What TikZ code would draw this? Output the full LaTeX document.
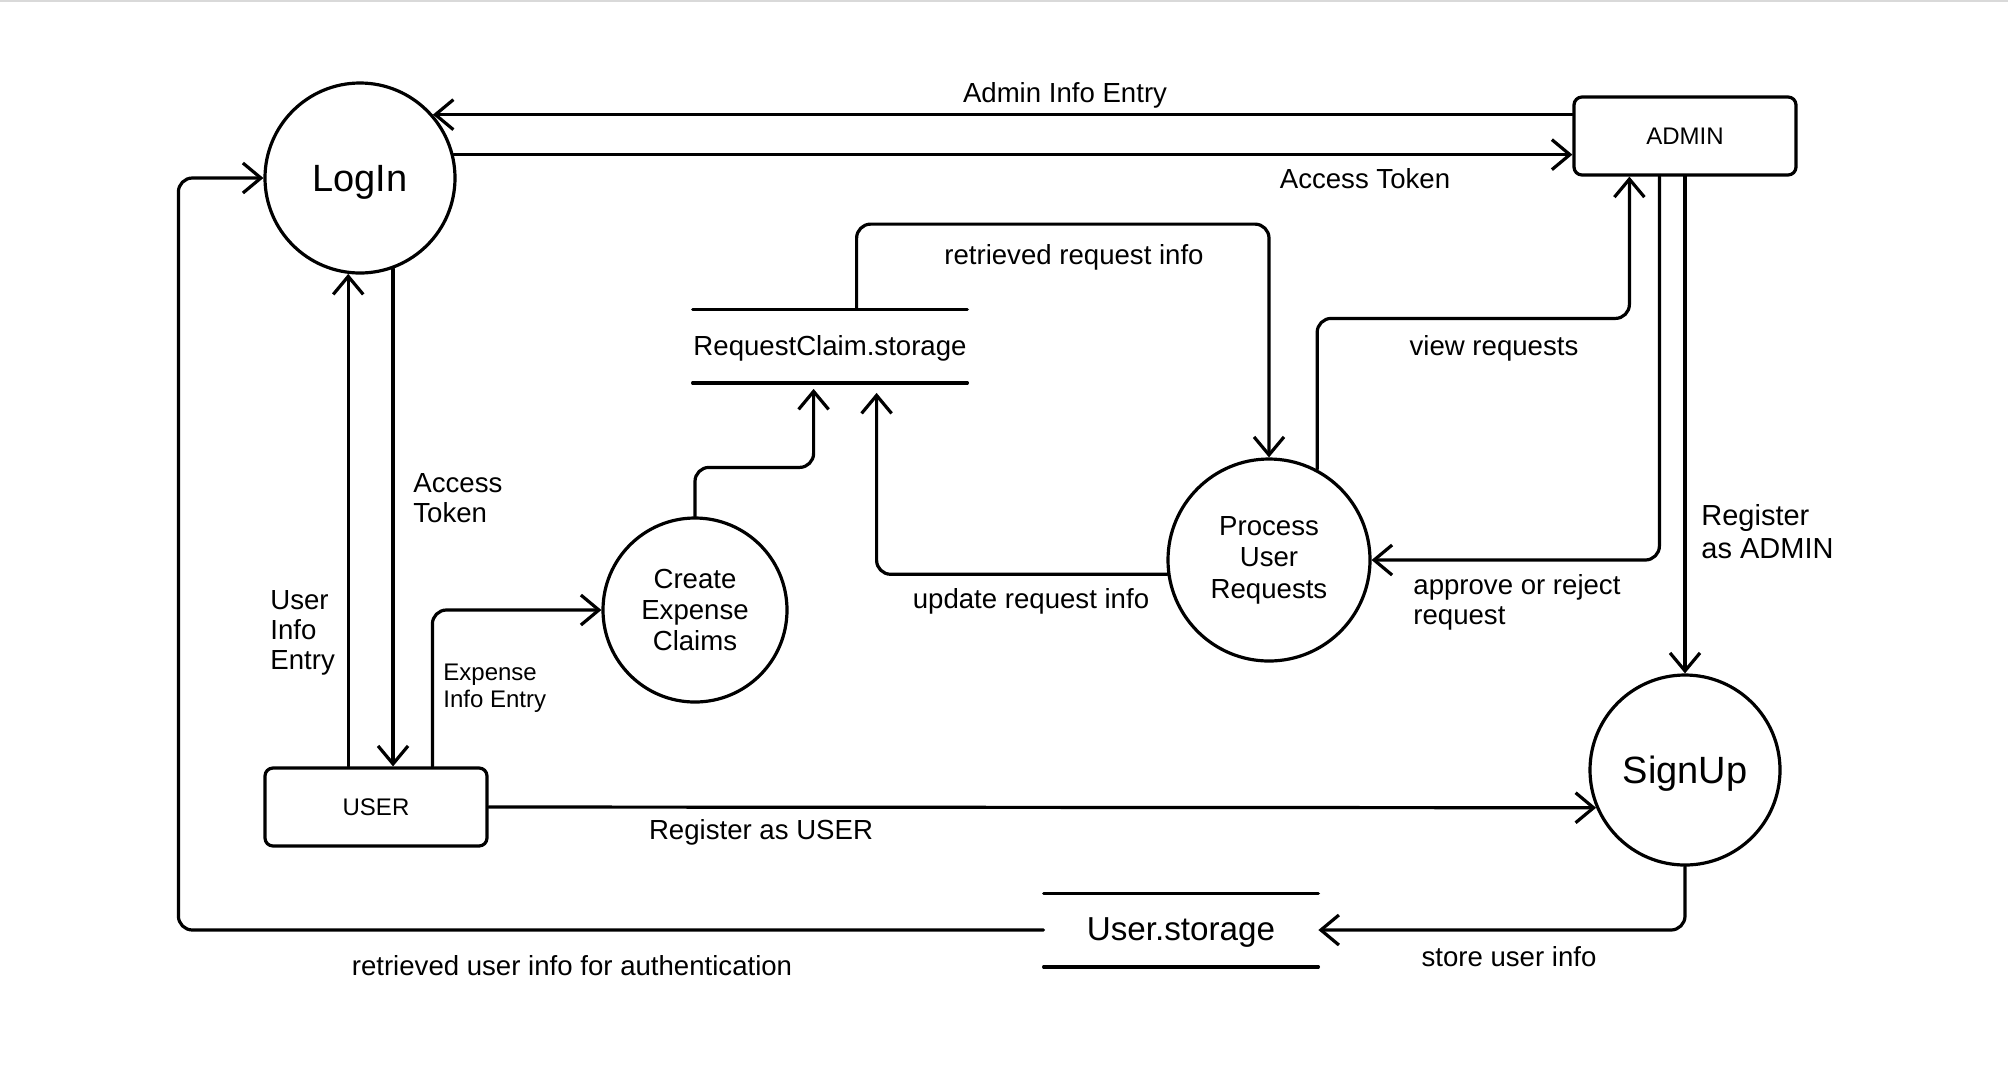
\documentclass[tikz,border=0pt]{standalone}
\usepackage{fontspec}
\setmainfont{Liberation Sans}
\usetikzlibrary{arrows.meta,calc}
\tikzset{
  flow/.style={line width=1.6pt, line cap=round, line join=round, rounded corners=7pt,
    -{Straight Barb[length=9pt,width=15pt,line width=1.6pt]}},
  plainline/.style={line width=1.6pt, line cap=round, rounded corners=7pt},
  proc/.style={circle, draw, line width=1.6pt, align=center, inner sep=0pt,
    font=\fontsize{13.8}{15.7}\selectfont},
  ent/.style={rectangle, rounded corners=4pt, draw, line width=1.6pt,
    minimum width=111pt, minimum height=39pt, font=\fontsize{12}{14}\selectfont},
  store/.style={minimum width=137pt, minimum height=36.5pt, inner sep=0pt},
  lbl/.style={font=\fontsize{13.8}{15}\selectfont, align=left, inner sep=0pt, yshift=-1pt},
  slbl/.style={font=\fontsize{12}{13.5}\selectfont, align=left, inner sep=0pt, yshift=-1pt}
}
\newcommand{\lowr}[2]{\raisebox{-#1}[\height][\depth]{#2}}
\begin{document}
\begin{tikzpicture}[x=0.5pt,y=-0.5pt]
\useasboundingbox (0,0) rectangle (2008,1073);
\draw[line width=1pt, black!15] (0,1) -- (2008,1);

% nodes
\node[proc, minimum size=95pt, font=\fontsize{19}{22}\selectfont] (li) at (360,178) {\lowr{2pt}{LogIn}};
\node[ent] (admin) at (1685,136) {ADMIN};
\node[ent] (user) at (376,807) {USER};
\node[proc, minimum size=92pt] (ce) at (695,610) {Create\\Expense\\Claims};
\node[proc, minimum size=101pt] (pr) at (1269,560) {Process\\User\\Requests};
\node[proc, minimum size=95pt, font=\fontsize{19}{22}\selectfont] (su) at (1685,770) {\lowr{2pt}{SignUp}};
\node[store, font=\fontsize{13.8}{16}\selectfont] (rc) at (830,346) {\lowr{1.2pt}{RequestClaim.storage}};
\draw[plainline] (rc.north west) -- (rc.north east);
\draw[plainline] (rc.south west) -- (rc.south east);
\node[store, font=\fontsize{16.6}{19}\selectfont] (us) at (1181,930) {\lowr{1.2pt}{User.storage}};
\draw[plainline] (us.north west) -- (us.north east);
\draw[plainline] (us.south west) -- (us.south east);

% connectors
\draw[flow] (admin.west |- li.41.5) -- (li.41.5);
\draw[flow] (li.14) -- (li.14 -| admin.west);
\draw[flow] (li.-70.3) -- (li.-70.3 |- user.north);
\draw[flow] (li.-97.9 |- user.north) -- (li.-97.9);
\coordinate (ue) at ($(user.north west)+(169,0)$);
\draw[flow] (ue) |- (ce.west);
\coordinate (rcin1) at ($(rc.south west)+(121,6)$);
\draw[flow] (ce.north) -- ++(0,-49) -| (rcin1);
\coordinate (rcin2) at ($(rc.south west)+(184,10)$);
\draw[flow] (pr.188.5) -| (rcin2);
\coordinate (rcout) at ($(rc.north west)+(164,0)$);
\draw[flow] (rcout) -- ++(0,-85) -| (pr.north);
\coordinate (adin) at ($(admin.south west)+(57,0)$);
\draw[flow] (pr.62.9) -- ++(0,-151) -| (adin);
\coordinate (adout) at ($(admin.south west)+(87,0)$);
\draw[flow] (adout) |- (pr.east);
\draw[flow] (admin.south) -- (su.north);
\draw[flow] (user.east) -- (su.203.6);
\draw[flow] (su.south) |- (us.east);
\coordinate (lft) at ($(li.west)+(-85,0)$);
\draw[flow] (us.west) -| (lft) -- (li.west);

% labels
\node[lbl] (l1) at (1065,93) {Admin Info Entry};
\node[lbl] (l2) at (1365,177) {Access Token};
\node[lbl, anchor=west] (l3) at (413,496) {Access\\Token};
\node[lbl, anchor=west] (l4) at (270,631) {User\\Info\\Entry};
\node[slbl, anchor=west] (l5) at (443,686) {Expense\\Info Entry};
\node[lbl] (l6) at (1074,255) {retrieved request info};
\node[lbl] (l7) at (1494,346) {view requests};
\node[lbl] (l8) at (1031,599) {update request info};
\node[lbl, anchor=west] (l9) at (1413,600) {approve or reject\\request};
\node[lbl, anchor=west, font=\fontsize{14.5}{16.5}\selectfont] (l10) at (1701,530) {Register\\as ADMIN};
\node[lbl] (l11) at (761,830) {Register as USER};
\node[lbl] (l12) at (1509,955) {store user info};
\node[lbl] (l13) at (572,964) {retrieved user info for authentication};
\end{tikzpicture}
\end{document}
